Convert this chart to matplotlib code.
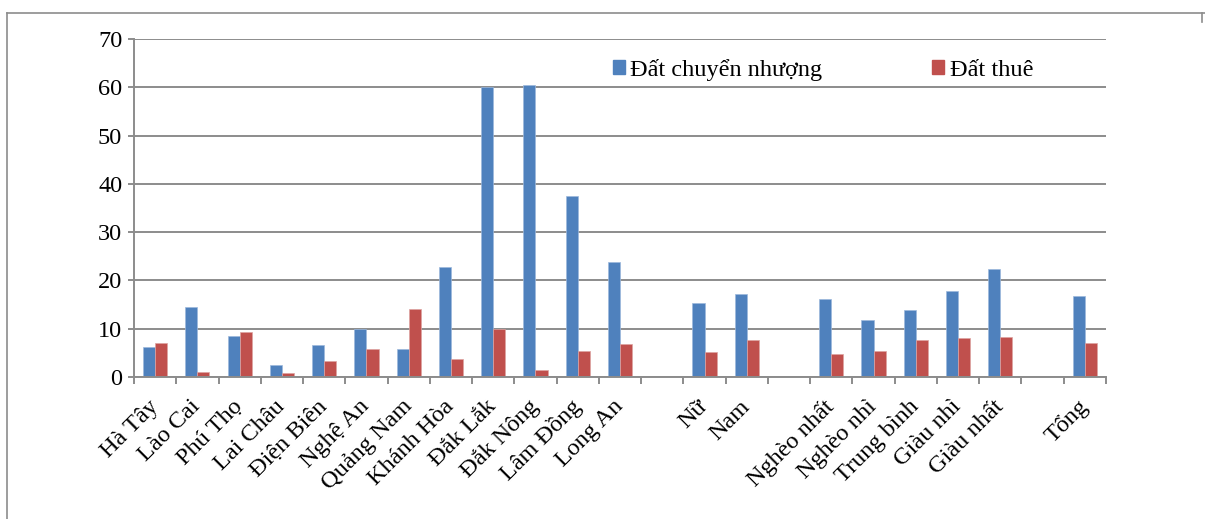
import numpy as np
import matplotlib.pyplot as plt
from matplotlib.patches import Patch
from matplotlib.lines import Line2D

plt.rcParams['font.family'] = ['Liberation Serif', 'DejaVu Serif']

# categories, blank strings are the spacer slots between groups
categories = ['Hà Tây', 'Lào Cai', 'Phú Thọ', 'Lai Châu', 'Điện Biên', 'Nghệ An',
              'Quảng Nam', 'Khánh Hòa', 'Đắk Lắk', 'Đắk Nông', 'Lâm Đồng', 'Long An',
              '', 'Nữ', 'Nam',
              '', 'Nghèo nhất', 'Nghèo nhì', 'Trung bình', 'Giàu nhì', 'Giàu nhất',
              '', 'Tổng']
chuyen_nhuong = [6.2, 14.4, 8.4, 2.4, 6.6, 9.9, 5.9, 22.8, 60.0, 60.5, 37.5, 23.9,
                 np.nan, 15.4, 17.1,
                 np.nan, 16.2, 11.9, 13.8, 17.8, 22.4,
                 np.nan, 16.7]
thue = [7.1, 1.0, 9.3, 0.8, 3.3, 5.9, 14.0, 3.7, 10.0, 1.5, 5.4, 6.9,
        np.nan, 5.1, 7.6,
        np.nan, 4.8, 5.4, 7.6, 8.0, 8.3,
        np.nan, 7.1]

blue = '#4F81BD'
red = '#C0504D'
grid = '#8C8C8C'
fs = 17.5

W, H = 1205, 519
fig = plt.figure(figsize=(W / 100, H / 100), dpi=100)
ax = fig.add_axes([134 / W, 1 - 377 / H, (1106 - 134) / W, (377 - 39) / H])

x = np.arange(len(categories))
bw = 1 / 3.5  # gap width 150%
ax.bar(x - bw / 2, chuyen_nhuong, bw, color=blue, edgecolor='#9DB9DC', linewidth=0.5)
ax.bar(x + bw / 2, thue, bw, color=red, edgecolor='#DDA3A1', linewidth=0.5)

ax.set_xlim(-0.5, len(categories) - 0.5)
ax.set_ylim(0, 70)
ax.set_yticks(range(0, 71, 10))
ax.yaxis.grid(True, color=grid, linewidth=1.4)
ax.set_axisbelow(True)

ax.set_xticks(x)
ax.set_xticklabels(categories, rotation=45, ha='right', va='center',
                   rotation_mode='anchor', fontsize=fs)
ax.tick_params(axis='x', which='major', length=0, pad=19)
ax.set_xticks(np.arange(-0.5, len(categories)), minor=True)
ax.tick_params(axis='x', which='minor', length=5, width=1.4, color=grid, direction='out')
ax.tick_params(axis='y', length=4.5, width=1.4, color=grid, direction='out',
               labelsize=fs, pad=4)

for side in ['top', 'right']:
    ax.spines[side].set_visible(False)
for side in ['left', 'bottom']:
    ax.spines[side].set_color(grid)
    ax.spines[side].set_linewidth(1.4)

handles = [Patch(color=blue), Patch(color=red)]
fig.legend(handles, ['Đất chuyển nhượng', 'Đất thuê'], ncol=2, frameon=False,
           loc='center left', bbox_to_anchor=(613 / W, 1 - 70 / H),
           fontsize=fs, borderpad=0, borderaxespad=0,
           handlelength=0.5, handleheight=0.5, handletextpad=0.22,
           columnspacing=4.5)

# outer chart frame, cut off at the right and bottom
fig.add_artist(Line2D([6.5 / W, 6.5 / W], [0, 1 - 13 / H], color=grid, lw=1.2,
                      transform=fig.transFigure))
fig.add_artist(Line2D([6.5 / W, 1], [1 - 13 / H, 1 - 13 / H], color=grid, lw=1.2,
                      transform=fig.transFigure))
fig.add_artist(Line2D([1202 / W, 1202 / W], [1 - 13 / H, 1 - 22 / H], color=grid, lw=1.2,
                      transform=fig.transFigure))

fig.savefig('out.png', dpi=100)
